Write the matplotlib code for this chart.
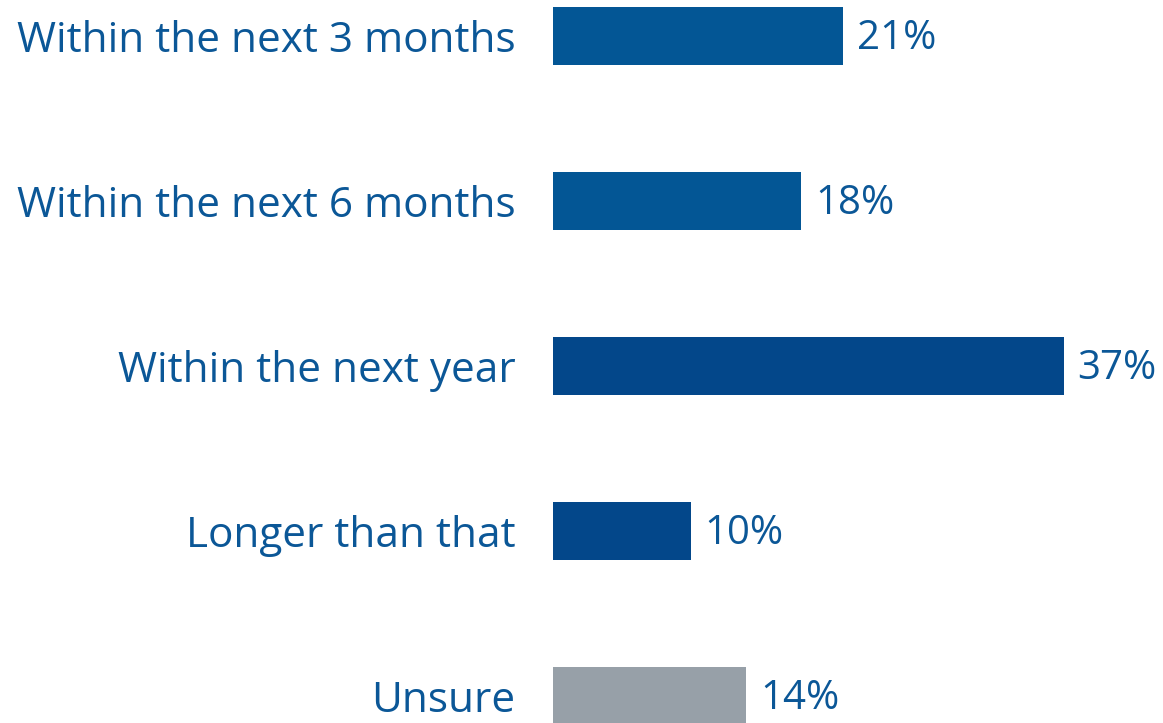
import matplotlib
matplotlib.use("Agg")
import matplotlib.pyplot as plt

categories = ["Within the next 3 months", "Within the next 6 months",
              "Within the next year", "Longer than that", "Unsure"]
values = [21, 18, 37, 10, 14]
colors = ["#035695", "#035695", "#03478A", "#03478A", "#97A0A8"]
text_color = "#0B5797"

plt.rcParams['font.family'] = ['Open Sans', 'DejaVu Sans']

fig = plt.figure(figsize=(11.63, 7.23), dpi=100)
ax = fig.add_axes([553 / 1163, 0, 1 - 553 / 1163, 1])

pos = list(range(len(categories)))
ax.barh(pos, values, height=0.35, color=colors)

ax.set_xlim(0, 610 / 13.8)
ax.set_ylim(4 + 27 / 165, -36 / 165)

for p, v in zip(pos, values):
    ax.text(v + 1.0, p + 0.015, f"{v}%", va="center", ha="left", fontsize=29, color=text_color)

ax.set_yticks(pos)
ax.set_yticklabels(categories, fontsize=30.4, color=text_color)
ax.tick_params(axis="y", length=0, pad=27)
ax.set_xticks([])
for s in ax.spines.values():
    s.set_visible(False)

fig.savefig("out.png", dpi=100)
